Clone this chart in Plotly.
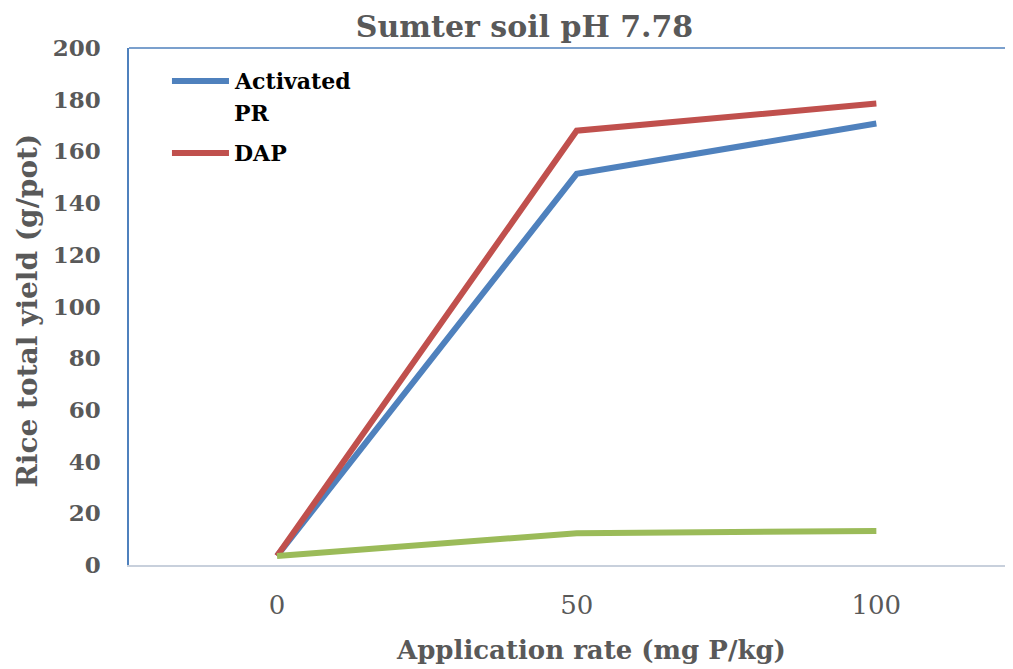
import plotly.graph_objects as go

rates = [0, 50, 100]
activated_pr = [3.5, 151.3, 170.8]
dap = [3.5, 168.0, 178.5]
control = [3.5, 12.3, 13.2]

title_text = "Sumter soil pH 7.78"
x_title = "Application rate (mg P/kg)"
y_title = "Rice total yield (g/pot)"

FONT = "DejaVu Serif"
GRAY = "#595959"
BLUE = "#4f81bd"
RED = "#c0504d"
GREEN = "#9bbb59"

fig = go.Figure()
fig.add_trace(go.Scatter(x=rates, y=activated_pr, mode="lines", name="Activated PR",
                         showlegend=False, line=dict(color=BLUE, width=6)))
fig.add_trace(go.Scatter(x=rates, y=dap, mode="lines", name="DAP", showlegend=False,
                         line=dict(color=RED, width=6)))
fig.add_trace(go.Scatter(x=rates, y=control, mode="lines", name="Control", showlegend=False,
                         line=dict(color=GREEN, width=6)))

fig.update_layout(
    width=1005, height=661,
    margin=dict(l=121, r=0, t=40, b=104),
    paper_bgcolor="white", plot_bgcolor="white",
    font=dict(family=FONT, color=GRAY),
    title=dict(text="<b>" + title_text + "</b>", x=0.514, xanchor="center", y=0.972, yanchor="middle",
               font=dict(size=30, color=GRAY, family=FONT)),
    xaxis=dict(range=[-24.7, 122.8], tickvals=rates, ticktext=[str(r) for r in rates],
               showgrid=False, zeroline=False, showline=True, linecolor="#c8d0dc", linewidth=2,
               tickfont=dict(size=26, color=GRAY, family=FONT), ticks="", ticklabelstandoff=16),
    yaxis=dict(range=[0, 200], dtick=20, showgrid=False, zeroline=False, showline=True,
               linecolor=BLUE, linewidth=1.5,
               tickfont=dict(size=23, color=GRAY, family=FONT, weight="bold"), ticks="",
               ticklabelstandoff=22),
    showlegend=False,
)

# top border of plot area
fig.add_shape(type="line", xref="paper", yref="paper", x0=0, x1=1, y0=1, y1=1,
              line=dict(color=BLUE, width=1.5))

# legend (drawn manually for exact spacing)
for ly, col in [(0.936, BLUE), (0.797, RED)]:
    fig.add_shape(type="line", xref="paper", yref="paper", x0=0.0486, x1=0.1131, y0=ly, y1=ly,
                  line=dict(color=col, width=6))
for txt, ty in [("Activated", 0.936), ("PR", 0.874), ("DAP", 0.797)]:
    fig.add_annotation(text="<b>" + txt + "</b>", xref="paper", yref="paper", x=0.1165, y=ty,
                       xanchor="left", yanchor="middle", showarrow=False,
                       font=dict(size=22, color="black", family=FONT))

fig.add_annotation(text="<b>" + x_title + "</b>", xref="paper", yref="paper", x=0.5226, y=-0.164,
                   xanchor="center", yanchor="middle", showarrow=False,
                   font=dict(size=26, color=GRAY, family=FONT))
fig.add_annotation(text="<b>" + y_title + "</b>", xref="paper", yref="paper", x=-0.115, y=0.493,
                   xanchor="center", yanchor="middle", showarrow=False, textangle=-90,
                   font=dict(size=28, color=GRAY, family=FONT))

fig.write_html("out.html")
